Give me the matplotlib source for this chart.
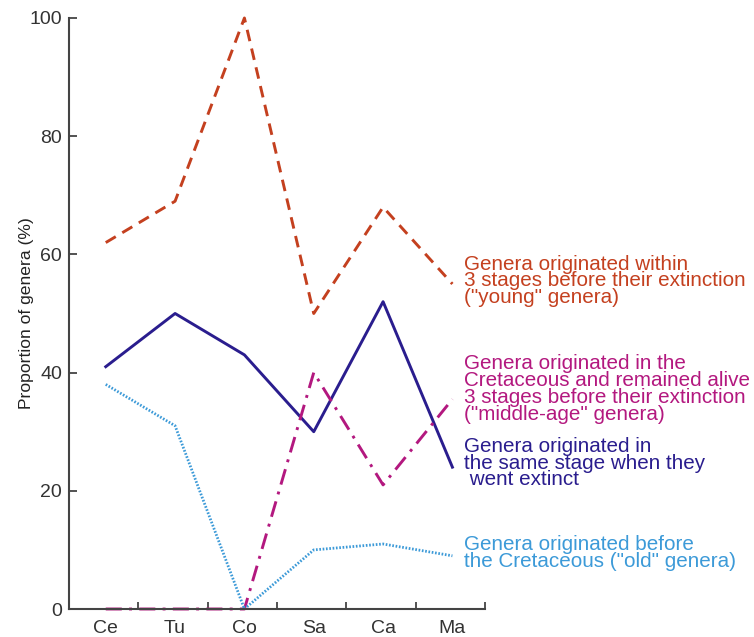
import matplotlib
matplotlib.use("Agg")
import matplotlib.pyplot as plt

plt.rcParams['font.family'] = ['Liberation Sans', 'DejaVu Sans']

# Cretaceous stages and proportion of genera (%) per age group
stages = ["Ce", "Tu", "Co", "Sa", "Ca", "Ma"]
young = [62, 69, 100, 50, 68, 55]
middle_age = [0, 0, 0, 40, 21, 35.5]
same_stage = [41, 50, 43, 30, 52, 24]
old = [38, 31, 0, 10, 11, 9]

labels = {
    "young": 'Genera originated within\n3 stages before their extinction\n("young" genera)',
    "middle": 'Genera originated in the\nCretaceous and remained alive\n3 stages before their extinction\n("middle-age" genera)',
    "same": 'Genera originated in\nthe same stage when they\n went extinct',
    "old": 'Genera originated before\nthe Cretaceous ("old" genera)',
}

c_young = "#c4401f"
c_middle = "#b3187f"
c_same = "#2a1d8e"
c_old = "#3c9ad8"

fig = plt.figure(figsize=(7.54, 6.37), dpi=100)
ax = fig.add_axes([69 / 754, 1 - 609 / 637, (485 - 69) / 754, (609 - 18) / 637])

x = range(len(stages))
ax.plot(x, young, color=c_young, lw=2.1, dashes=(4, 2.6), clip_on=False)
ax.plot(x, same_stage, color=c_same, lw=2.1, clip_on=False)
ax.plot(x, middle_age, color=c_middle, lw=2.1, dashes=(5.5, 2.5, 1, 2.5), clip_on=False)
ax.plot(x, old, color=c_old, lw=2.0, dashes=(0.6, 0.6), clip_on=False)

ax.set_xlim(-0.53, 5.47)
ax.set_ylim(0, 100)

ax.set_xticks(range(len(stages)))
ax.set_xticklabels(stages)
ax.set_xticks([k - 0.53 for k in range(1, 7)], minor=True)
ax.tick_params(axis="x", which="major", length=0, pad=8, labelsize=14, labelcolor="#333333")
ax.tick_params(axis="x", which="minor", direction="in", length=5, width=1.3, color="#444444")
ax.set_yticks([0, 20, 40, 60, 80, 100])
ax.tick_params(axis="y", direction="in", length=6, width=1.3, color="#444444",
               pad=5, labelsize=14, labelcolor="#333333")

for side in ("top", "right"):
    ax.spines[side].set_visible(False)
for side in ("left", "bottom"):
    ax.spines[side].set_color("#444444")
    ax.spines[side].set_linewidth(1.5)

ax.set_ylabel("Proportion of genera (%)", fontsize=12.6, color="#222222", labelpad=-3)

tx = 5.17
text_kw = dict(fontsize=14.9, va="center", ha="left", linespacing=0.86, clip_on=False)
ax.text(tx, 55.5, labels["young"], color=c_young, **text_kw)
ax.text(tx, 37.2, labels["middle"], color=c_middle, **text_kw)
ax.text(tx, 24.7, labels["same"], color=c_same, **text_kw)
ax.text(tx, 9.4, labels["old"], color=c_old, **text_kw)

fig.savefig("out.png", dpi=100)
